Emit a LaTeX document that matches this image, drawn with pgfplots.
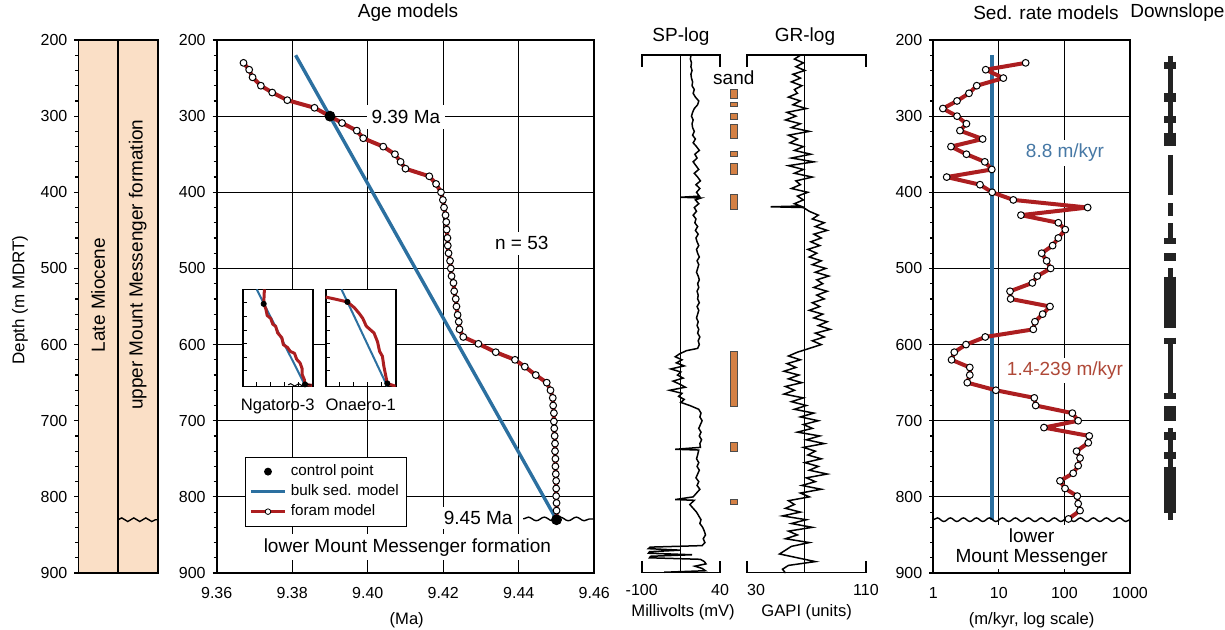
\documentclass[border=0pt]{standalone}
\usepackage{pgfplots}
\pgfplotsset{compat=1.18}
\usepackage{fontspec}
\setmainfont{Liberation Sans}
\usetikzlibrary{decorations.pathmorphing}

\definecolor{peach}{RGB}{250,223,198}
\definecolor{foramred}{RGB}{172,30,32}
\definecolor{bulkblue}{RGB}{44,112,160}
\definecolor{txtblue}{RGB}{70,120,165}
\definecolor{txtred}{RGB}{175,72,55}
\definecolor{sand}{RGB}{212,128,68}
\definecolor{slope}{RGB}{35,35,35}

\newcommand\tk{\fontsize{8}{9}\selectfont}
\newcommand\an{\fontsize{9.5}{11}\selectfont}
\newcommand\ttl{\fontsize{9.5}{11}\selectfont}

\tikzset{wavy/.style={decorate, decoration={snake, amplitude=0.9pt, segment length=#1}, line width=0.7pt},
  wavy/.default=8pt}

\pgfplotsset{
  depth/.style={
    scale only axis, anchor=north west, height=266.5pt,
    y dir=reverse, ymin=200, ymax=900,
    ytick={200,300,...,900}, minor y tick num=4,
    tick align=outside, ytick pos=left,
    major tick length=2pt, minor tick length=1.6pt,
    tick style={black, line width=0.6pt},
    axis line style={line width=0.9pt},
    tick label style={font=\tk},
    /pgf/number format/assume math mode=true,
  },
  foram/.style={color=foramred, line width=2pt, line join=round, mark=*, mark size=1.7pt,
    mark options={fill=white, draw=black, line width=0.5pt}},
  inset/.style={scale only axis, anchor=north west, width=35pt, height=48.5pt,
    xmin=0, xmax=1, ymin=0, ymax=1, y dir=reverse,
    xtick={0.2,0.4,0.6,0.8}, ytick={0.14,0.28,0.42,0.56,0.70,0.84},
    xticklabels={}, yticklabels={}, tick align=inside, tick pos=left,
    major tick length=2pt, tick style={black, line width=0.5pt},
    axis line style={line width=0.8pt},
    axis background/.style={fill=white},
    xlabel style={font=\fontsize{8.3}{9}\selectfont, inner sep=0pt, yshift=1pt}},
}

\begin{document}
\begin{tikzpicture}
\path[use as bounding box] (0pt,0pt) rectangle (612.5pt,-314.5pt);

% lithology column
\begin{axis}[depth, at={(39.2pt,-20pt)}, width=39.6pt, xmin=0, xmax=2, xtick=\empty,
  axis background/.style={fill=peach}]
\draw[line width=0.9pt] (axis cs:1,200) -- (axis cs:1,900);
\node[rotate=90, font=\an] at (axis cs:0.5,535) {Late Miocene};
\node[rotate=90, font=\an] at (axis cs:1.5,495) {upper Mount Messenger formation};
\draw[wavy=6pt] (axis cs:1,830) -- (axis cs:2,830);
\end{axis}

% age models
\begin{axis}[depth, at={(108.35pt,-20pt)}, width=188.8pt,
  xmin=9.36, xmax=9.46, xtick={9.36,9.38,9.40,9.42,9.44,9.46},
  xticklabels={9.36,9.38,9.40,9.42,9.44,9.46}, scaled x ticks=false,
  xtick style={draw=none}, xticklabel style={yshift=-1.5pt},
  grid=major, grid style={black, line width=0.45pt},
  legend style={at={(axis cs:9.3675,747)}, anchor=north west, draw=black,
    line width=0.5pt, font=\fontsize{7.6}{8.4}\selectfont, inner sep=1.8pt,
    row sep=-1pt, cells={anchor=west}}]
\addplot[bulkblue, line width=1.7pt, forget plot] coordinates {(9.3809,220) (9.45,830)};
\addplot[foram, forget plot] coordinates {
(9.3671,230)(9.3686,239)(9.3695,249)(9.3717,260)(9.3747,269)(9.3787,279)(9.3859,289)
(9.3900,300)(9.3932,309)(9.3971,319)(9.3988,329)(9.4041,340)(9.4072,350)(9.4087,360)
(9.4100,369)(9.4163,379)(9.4181,389)(9.4194,400)(9.4199,410)(9.4202,420)(9.4206,430)
(9.4208,439)(9.4209,449)(9.4211,460)(9.4212,470)(9.4214,480)(9.4218,490)(9.4220,500)
(9.4222,510)(9.4227,519)(9.4229,530)(9.4233,540)(9.4235,550)(9.4238,561)(9.4241,570)
(9.4243,580)(9.4253,590)(9.4293,599)(9.4339,610)(9.4390,620)(9.4416,629)(9.4445,640)
(9.4474,650)(9.4484,660)(9.4490,670)(9.4491,680)(9.4493,690)(9.4493,701)(9.4494,710)
(9.4495,720)(9.4496,730)(9.4496,740)(9.4497,750)(9.4497,760)(9.4498,770)(9.4499,779)
(9.4499,789)(9.4499,799)(9.4500,808)(9.4500,818)(9.4500,830)};
\addplot[only marks, mark=*, mark size=2.5pt, black, forget plot] coordinates {(9.39,300) (9.45,830)};
\addlegendimage{only marks, mark=*, black, mark size=1.7pt}
\addlegendentry{control point}
\addlegendimage{bulkblue, line width=1.6pt}
\addlegendentry{bulk sed. model}
\addlegendimage{foramred, line width=1.8pt, mark=*, mark size=1.4pt, mark options={fill=white, draw=black, line width=0.4pt}}
\addlegendentry{foram model}
\node[font=\an, fill=white, inner sep=2.5pt] at (axis cs:9.4101,301) {9.39 Ma};
\node[font=\an, fill=white, inner sep=2.5pt] at (axis cs:9.4408,467) {n = 53};
\node[font=\an, fill=white, inner sep=2pt, anchor=east] at (axis cs:9.4395,828) {9.45 Ma};
\node[font=\an, fill=white, inner sep=2pt] at (axis cs:9.4105,866) {lower Mount Messenger formation};
\draw[wavy] (axis cs:9.4412,829) -- (axis cs:9.46,829);
\end{axis}

% insets
\begin{axis}[inset, at={(121.35pt,-144.65pt)}, xlabel={Ngatoro-3}]
\addplot[bulkblue, line width=1pt] coordinates {(0.20,0) (0.89,0.99)};
\addplot[foramred, line width=1.5pt, line join=round] coordinates {
(0.31,0)(0.30,0.15)(0.33,0.20)(0.35,0.27)(0.40,0.30)(0.43,0.36)(0.47,0.38)(0.50,0.45)
(0.56,0.50)(0.58,0.57)(0.64,0.60)(0.68,0.64)(0.74,0.66)(0.77,0.72)(0.82,0.76)(0.85,0.82)
(0.85,0.88)(0.88,0.93)(0.89,0.98)(0.99,0.99)};
\addplot[only marks, mark=*, mark size=1.3pt, black] coordinates {(0.30,0.15) (0.89,0.98)};
\draw[decorate, decoration={snake, amplitude=0.6pt, segment length=4pt}, line width=0.5pt]
  (axis cs:0.65,0.985) -- (axis cs:0.98,0.985);
\end{axis}
\begin{axis}[inset, at={(162.85pt,-144.65pt)}, xlabel={Onaero-1}]
\addplot[bulkblue, line width=1pt] coordinates {(0.225,0) (0.88,1.0)};
\addplot[foramred, line width=1.5pt, line join=round] coordinates {
(0,0.08)(0.13,0.10)(0.31,0.13)(0.41,0.19)(0.48,0.25)(0.53,0.30)(0.58,0.38)(0.69,0.45)
(0.74,0.54)(0.77,0.64)(0.81,0.69)(0.83,0.79)(0.86,0.90)(0.88,0.97)(1.0,1.0)};
\addplot[only marks, mark=*, mark size=1.3pt, black] coordinates {(0.31,0.13) (0.88,0.97)};
\end{axis}

% SP log
\begin{axis}[scale only axis, anchor=north west, at={(320.85pt,-20pt)}, width=39.15pt, height=266.5pt,
  xmin=-100, xmax=40, y dir=reverse, ymin=200, ymax=900, hide axis, clip=false]
\draw[line width=0.8pt] (axis cs:-100,235) |- (axis cs:40,219.7) -- (axis cs:40,235);
\draw[line width=0.8pt] (axis cs:-100,884) |- (axis cs:40,899.4) -- (axis cs:40,884);
\draw[line width=0.6pt] (axis cs:-30,219.7) -- (axis cs:-30,899.4);
\addplot[black, line width=0.75pt] coordinates {
(-12,220)(-13,225)(-11,230)(-12,235)(-10,240)(-12,245)(-11,250)(-9,255)(-10,260)(-6,265)
(-8,270)(-4,275)(2,280)(0,285)(-6,290)(-9,295)(-11,300)(-8,305)(-10,310)(-9,315)(-6,320)
(-9,325)(-4,330)(-8,335)(-2,340)(3,345)(-5,350)(-1,355)(-8,360)(-3,365)(2,370)(-6,375)
(0,380)(5,385)(-3,390)(4,395)(-2,400)(3,405)(-30,406.5)(6,407.5)(-4,410)(2,415)(-6,420)
(-2,425)(-8,430)(-3,435)(-5,440)(0,445)(-4,450)(1,455)(-3,460)(-1,465)(2,470)(-2,475)
(0,480)(3,485)(-1,490)(2,495)(0,500)(-2,505)(1,510)(3,515)(0,520)(2,525)(-1,530)(1,535)
(0,540)(3,545)(-1,550)(2,555)(0,560)(-2,565)(1,570)(-1,575)(2,580)(0,585)(4,590)(1,595)
(3,600)(0,605)(-20,608)(-32,612)(-40,616)(-28,620)(-38,624)(-24,628)(-48,632)(-30,636)
(-36,640)(-26,644)(-44,648)(-32,652)(-22,656)(-50,660)(-28,664)(-34,668)(-24,672)(-30,676)
(-14,680)(2,685)(6,690)(4,695)(8,700)(5,705)(2,710)(6,715)(3,720)(7,725)(4,730)(5,735)
(-40,737.5)(2,738.5)(0,745)(-2,750)(2,755)(-1,760)(3,765)(0,770)(-3,775)(2,780)(-1,785)
(4,790)(-2,795)(-8,800)(-40,803.5)(-6,804.5)(-14,810)(-8,815)(-2,820)(2,825)(6,830)
(4,835)(9,840)(12,845)(14,850)(10,855)(13,860)(8,864)(-85,866)(-88,868)(-30,870)(-86,872)
(-88,874)(-10,876)(-84,878)(-86,880)(5,882)(12,885)(15,888)(-5,891)(8,894)(14,897)(-60,899)};
\addplot[fill=sand, draw=black!70, line width=0.4pt] coordinates {(58,265)(71.6,265)(71.6,277)(58,277)} -- cycle;
\addplot[fill=sand, draw=black!70, line width=0.4pt] coordinates {(58,282)(71.6,282)(71.6,287)(58,287)} -- cycle;
\addplot[fill=sand, draw=black!70, line width=0.4pt] coordinates {(58,296)(71.6,296)(71.6,304)(58,304)} -- cycle;
\addplot[fill=sand, draw=black!70, line width=0.4pt] coordinates {(58,311)(71.6,311)(71.6,329)(58,329)} -- cycle;
\addplot[fill=sand, draw=black!70, line width=0.4pt] coordinates {(58,346)(71.6,346)(71.6,353)(58,353)} -- cycle;
\addplot[fill=sand, draw=black!70, line width=0.4pt] coordinates {(58,362)(71.6,362)(71.6,376)(58,376)} -- cycle;
\addplot[fill=sand, draw=black!70, line width=0.4pt] coordinates {(58,403)(71.6,403)(71.6,422)(58,422)} -- cycle;
\addplot[fill=sand, draw=black!70, line width=0.4pt] coordinates {(58,609)(71.6,609)(71.6,681)(58,681)} -- cycle;
\addplot[fill=sand, draw=black!70, line width=0.4pt] coordinates {(58,728)(71.6,728)(71.6,740)(58,740)} -- cycle;
\addplot[fill=sand, draw=black!70, line width=0.4pt] coordinates {(58,803)(71.6,803)(71.6,810)(58,810)} -- cycle;
\node[font=\an] at (axis cs:64.7,250) {sand};
\node[font=\tk] at (axis cs:-100,922) {-100};
\node[font=\tk] at (axis cs:40,922) {40};
\node[font=\fontsize{8.3}{9}\selectfont] at (axis cs:-26,952) {Millivolts (mV)};
\end{axis}

% GR log
\begin{axis}[scale only axis, anchor=north west, at={(373.35pt,-20pt)}, width=59.65pt, height=266.5pt,
  xmin=30, xmax=110, y dir=reverse, ymin=200, ymax=900, hide axis, clip=false]
\draw[line width=0.8pt] (axis cs:30,235) |- (axis cs:110,219.7) -- (axis cs:110,235);
\draw[line width=0.8pt] (axis cs:30,884) |- (axis cs:110,899.4) -- (axis cs:110,884);
\draw[line width=0.6pt] (axis cs:69,219.7) -- (axis cs:69,899.4);
\addplot[black, line width=0.75pt] coordinates {
(66,220)(62,225)(68,230)(63,235)(69,240)(61,245)(66,250)(60,255)(67,260)(62,265)(64,270)
(58,275)(66,280)(61,285)(70,290)(57,295)(63,300)(56,305)(66,310)(60,315)(72,320)(58,325)
(64,330)(59,335)(68,340)(62,345)(73,350)(60,355)(75,360)(58,365)(68,370)(62,375)(74,380)
(63,385)(66,390)(60,395)(71,400)(64,405)(68,410)(62,415)(66,418)(46,419)(68,420)(72,425)
(78,430)(74,435)(82,440)(76,445)(84,450)(75,455)(80,460)(73,465)(79,470)(71,475)(77,480)
(72,485)(80,490)(74,495)(83,500)(76,505)(85,510)(77,515)(81,520)(75,525)(84,530)(77,535)
(82,540)(74,545)(79,550)(72,555)(81,560)(75,565)(84,570)(78,575)(86,580)(76,585)(82,590)
(74,595)(80,600)(72,605)(64,610)(58,615)(66,620)(57,625)(63,630)(55,635)(65,640)(58,645)
(67,650)(56,655)(62,660)(55,665)(68,670)(60,675)(70,680)(62,685)(75,690)(66,695)(78,700)
(68,705)(74,710)(64,715)(79,720)(70,725)(82,730)(68,735)(76,740)(71,745)(80,750)(69,755)
(78,760)(72,765)(84,770)(70,775)(76,780)(67,785)(80,790)(66,795)(72,800)(58,805)(62,810)
(56,815)(66,820)(54,825)(70,830)(60,835)(74,840)(58,845)(64,850)(56,855)(72,860)(60,865)
(56,870)(52,875)(64,880)(76,885)(58,890)(54,895)(56,900)};
\node[font=\tk, anchor=west, inner sep=0pt] at (axis cs:30,922) {30};
\node[font=\tk] at (axis cs:110,922) {110};
\node[font=\fontsize{8.3}{9}\selectfont] at (axis cs:70.2,952) {GAPI (units)};
\end{axis}

% sedimentation rate
\begin{axis}[depth, at={(466.65pt,-20pt)}, width=98.35pt, xmode=log, xmin=1, xmax=1000,
  xtick={1,10,100,1000}, xticklabels={1,10,100,1000}, xminorticks=false,
  xtick style={draw=none}, xticklabel style={yshift=-1.5pt},
  grid=major, grid style={black, line width=0.45pt}]
\addplot[bulkblue, line width=2pt] coordinates {(7.8,220) (7.8,830)};
\addplot[foram] coordinates {
(25.6,230)(6.3,239)(11.7,250)(4.6,260)(3.5,270)(2.3,280)(1.4,290)(2.3,300)(3.2,310)
(2.55,319)(5.65,330)(1.86,340)(3.2,350)(6.1,360)(7.8,370)(1.6,380)(5.15,390)(7.9,400)
(16.6,410)(226,420)(21.7,430)(80.6,440)(103,449)(80.6,460)(66,470)(44.9,480)(53.5,490)
(61.6,500)(38.6,510)(32.4,519)(14.8,530)(15.1,540)(60.2,550)(46.5,560)(35.5,570)(33.5,580)
(6.2,590)(3.15,600)(2.09,610)(1.9,620)(3.6,630)(3.6,640)(3.3,650)(9.0,660)(34.7,670)
(36.4,680)(132,690)(162,700)(48.7,709)(239,720)(231,729)(153,740)(173,749)(162,759)
(136,769)(85.5,779)(102,789)(157,799)(162,809)(173,818)(115,829)};
\node[font=\an, text=txtblue, fill=white, inner sep=2pt] at (axis cs:102,348) {8.8 m/kyr};
\node[font=\an, text=txtred, fill=white, inner sep=2pt] at (axis cs:102,634) {1.4-239 m/kyr};
\node[font=\an, fill=white, inner sep=1.5pt, align=center] at (axis cs:31.6,866) {lower\\[-1pt]Mount Messenger};
\draw[wavy=6.5pt] (axis cs:1,830) -- (axis cs:1000,830);
\end{axis}

% downslope column
\begin{axis}[scale only axis, anchor=north west, at={(575pt,-20pt)}, width=20pt, height=266.5pt,
  xmin=-1, xmax=1, y dir=reverse, ymin=200, ymax=900, hide axis, unbounded coords=jump]
\addplot[slope, line width=2.5pt] coordinates {
(0,220.6)(0,321.7)(0,nan)(0,351)(0,403.5)(0,nan)(0,414.4)(0,431)(0,nan)(0,440.7)(0,460.3)
(0,nan)(0,499.7)(0,510.8)(0,nan)(0,599.5)(0,663.8)(0,nan)(0,709.8)(0,830.2)};
\addplot[slope, line width=6pt] coordinates {
(0,228.5)(0,238.5)(0,nan)(0,270)(0,281)(0,nan)(0,299.8)(0,309.4)(0,nan)(0,321.7)(0,339.2)
(0,nan)(0,460.3)(0,467.8)(0,nan)(0,480)(0,489.7)(0,nan)(0,510.8)(0,578.5)(0,nan)
(0,590.8)(0,599.5)(0,nan)(0,663.8)(0,671.7)(0,nan)(0,680.5)(0,699.8)(0,nan)(0,714.2)(0,725.1)
(0,nan)(0,740.5)(0,750.5)(0,nan)(0,760.2)(0,821.4)};
\end{axis}

% titles and outer labels
\node[font=\ttl] at (204pt,-6.5pt) {Age models};
\node[font=\ttl] at (340.5pt,-18.5pt) {SP-log};
\node[font=\ttl] at (402.5pt,-18.5pt) {GR-log};
\node[font=\ttl] at (523pt,-6.5pt) {Sed. rate models};
\node[font=\ttl, anchor=east, inner sep=0pt] at (612.4pt,-6.5pt) {Downslope};
\node[font=\fontsize{8.5}{9}\selectfont, rotate=90] at (10pt,-150pt) {Depth (m MDRT)};
\node[font=\fontsize{8.3}{9}\selectfont] at (203.35pt,-310pt) {(Ma)};
\node[font=\fontsize{8.3}{9}\selectfont] at (515.8pt,-310pt) {(m/kyr, log scale)};
\end{tikzpicture}
\end{document}
